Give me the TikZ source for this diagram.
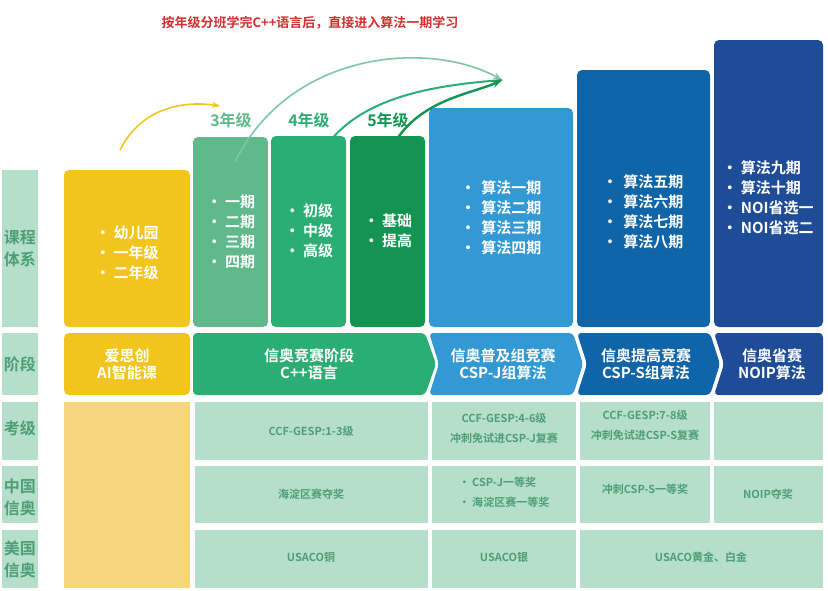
\documentclass[tikz,border=0pt]{standalone}
\usepackage{fontspec}
\setmainfont{Noto Sans CJK SC}[BoldFont={* Bold}]
\usetikzlibrary{arrows.meta}
\definecolor{cy}{HTML}{F2C41E}\definecolor{cg1}{HTML}{5FB98B}\definecolor{cg2}{HTML}{2BAE73}
\definecolor{cg3}{HTML}{139450}\definecolor{cb1}{HTML}{3399D4}\definecolor{cb2}{HTML}{0F65A8}
\definecolor{cb3}{HTML}{1F4C96}\definecolor{pale}{HTML}{B5DFCA}\definecolor{py}{HTML}{F7D57A}
\definecolor{lab}{HTML}{4E9E78}\definecolor{red}{HTML}{D32F2F}
\begin{document}
\begin{tikzpicture}[x=1pt,y=-1pt,font=\bfseries,
 box/.style={rounded corners=5pt,draw=none},
 wt/.style={text=white,font=\bfseries\fontsize{15}{20}\selectfont,align=left},
 st/.style={text=white,font=\bfseries\fontsize{15}{17}\selectfont,align=center},
 tt/.style={text=lab,font=\bfseries\fontsize{11}{20}\selectfont,align=center},
 lt/.style={text=lab,font=\bfseries\fontsize{16}{22}\selectfont,align=center},
 gt/.style={font=\bfseries\fontsize{16}{20}\selectfont}]
\useasboundingbox (0,0) rectangle (828,590);
% top course boxes
\fill[pale] (2,170) rectangle (38,327);
\node[lt] (l1) at (20,248) {课程\\体系};
\fill[box,cy] (64,170) rectangle (190,327);
\fill[box,cg1] (193,137) rectangle (268,327);
\fill[box,cg2] (271,136) rectangle (346,327);
\fill[box,cg3] (350,136) rectangle (425,327);
\fill[box,cb1] (429,108) rectangle (573,327);
\fill[box,cb2] (577,70) rectangle (710,327);
\fill[box,cb3] (714,40) rectangle (823,327);
\node[wt] (c1) at (127,253) {• 幼儿园\\• 一年级\\• 二年级};
\node[wt] (c2) at (231,232) {• 一期\\• 二期\\• 三期\\• 四期};
\node[wt] (c3) at (309,231) {• 初级\\• 中级\\• 高级};
\node[wt] (c4) at (388,231) {• 基础\\• 提高};
\node[wt] (c5) at (501,218) {•\, 算法一期\\•\, 算法二期\\•\, 算法三期\\•\, 算法四期};
\node[wt] (c6) at (643,212) {•\, 算法五期\\•\, 算法六期\\•\, 算法七期\\•\, 算法八期};
\node[wt] (c7) at (768,198) {• 算法九期\\• 算法十期\\• NOI省选一\\• NOI省选二};
\node[gt,text=cg1] (g3) at (231,120) {3年级};
\node[gt,text=cg2] (g4) at (309,120) {4年级};
\node[gt,text=cg3] (g5) at (388,120) {5年级};
\node[text=red,font=\bfseries\fontsize{13}{15}\selectfont] (title) at (310,23) {按年级分班学完C++语言后，直接进入算法一期学习};
% arcs
\coordinate (a0) at (120,150); \coordinate (a1) at (220,106);
\draw[cy,line width=1.6pt,-{Stealth[length=8pt]}] (a0) .. controls (140,110) and (180,100) .. (a1);
\coordinate (t) at (502,80);
\draw[cg1!80,line width=1.6pt,-{Stealth[length=9pt]}] (235,162) .. controls (290,50) and (430,40) .. (t);
\draw[cg2,line width=2pt] (318,160) .. controls (350,95) and (440,85) .. (t);
\draw[cg3,line width=2.4pt,-{Stealth[length=10pt]}] (387,158) .. controls (410,100) and (470,95) .. (t);
% stage row
\fill[pale] (2,333) rectangle (38,395);
\node[lt] (l2) at (20,364) {阶段};
\fill[box,cy] (64,333) rectangle (190,395);
\fill[cg2,rounded corners=4pt] (193,333) -- (425,333) -- (436,364) -- (425,395) -- (193,395) -- cycle;
\fill[cb1,rounded corners=4pt] (429,333) -- (573,333) -- (583,364) -- (573,395) -- (429,395) -- (439,364) -- cycle;
\fill[cb2,rounded corners=4pt] (577,333) -- (710,333) -- (720,364) -- (710,395) -- (577,395) -- (587,364) -- cycle;
\fill[cb3,rounded corners=4pt] (714,333) -- (823,333) -- (823,395) -- (714,395) -- (724,364) -- cycle;
\node[st] (s1) at (127,364) {爱思创\\AI智能课};
\node[st] (s2) at (309,364) {信奥竞赛阶段\\C++语言};
\node[st] (s3) at (503,364) {信奥普及组竞赛\\CSP-J组算法};
\node[st] (s4) at (646,364) {信奥提高竞赛\\CSP-S组算法};
\node[st] (s5) at (772,364) {信奥省赛\\NOIP算法};
% bottom table
\fill[pale] (2,402) rectangle (38,460); \fill[pale] (2,466) rectangle (38,523); \fill[pale] (2,530) rectangle (38,588);
\node[lt] (l3) at (20,428) {考级};
\node[lt] (l4) at (20,497) {中国\\信奥};
\node[lt] (l5) at (20,559) {美国\\信奥};
\fill[py] (64,402) rectangle (190,588);
\fill[pale] (195,402) rectangle (428,460); \fill[pale] (432,402) rectangle (576,460);
\fill[pale] (580,402) rectangle (710,460); \fill[pale] (714,402) rectangle (823,460);
\fill[pale] (195,466) rectangle (428,523); \fill[pale] (432,466) rectangle (576,523);
\fill[pale] (580,466) rectangle (710,523); \fill[pale] (714,466) rectangle (823,523);
\fill[pale] (195,530) rectangle (428,588); \fill[pale] (432,530) rectangle (576,588);
\fill[pale] (580,530) rectangle (823,588);
\node[tt] (k1) at (311,431) {CCF-GESP:1-3级};
\node[tt] (k2) at (504,428) {CCF-GESP:4-6级\\冲刺免试进CSP-J复赛};
\node[tt] (k3) at (645,425) {CCF-GESP:7-8级\\冲刺免试进CSP-S复赛};
\node[tt] (z1) at (311,494) {海淀区赛夺奖};
\node[tt,align=left] (z2) at (504,492) {• CSP-J一等奖\\• 海淀区赛一等奖};
\node[tt] (z3) at (645,489) {冲刺CSP-S一等奖};
\node[tt] (z4) at (768,494) {NOIP夺奖};
\node[tt] (u1) at (311,557) {USACO铜};
\node[tt] (u2) at (504,557) {USACO银};
\node[tt] (u3) at (701,557) {USACO黄金、白金};
\end{tikzpicture}
\end{document}
